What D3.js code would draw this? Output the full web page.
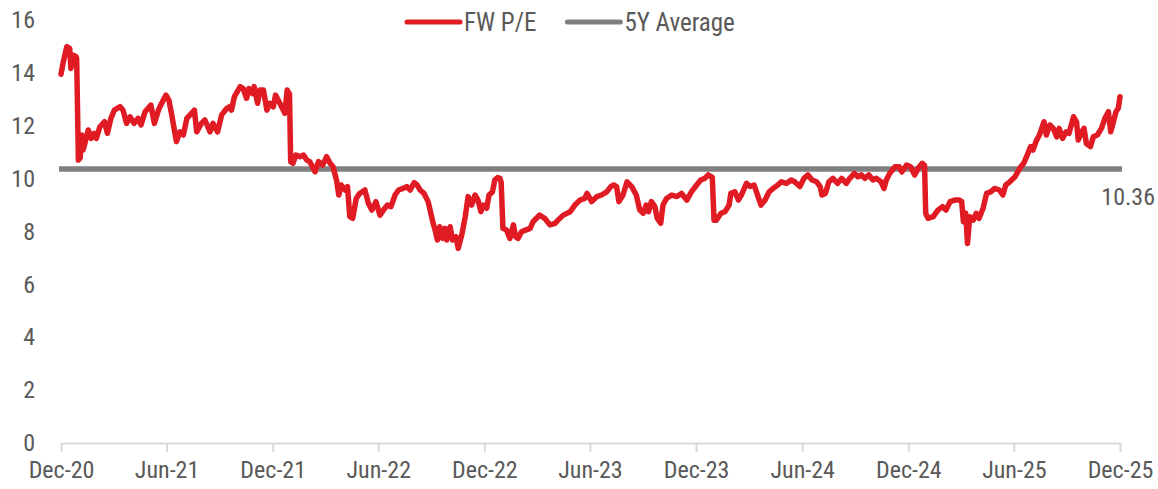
<!DOCTYPE html>
<html>
<head>
<meta charset="utf-8">
<script src="https://cdn.jsdelivr.net/npm/d3@7"></script>
<style>
  body { margin: 0; background: #fff; }
  svg text { font-family: "Liberation Sans Narrow", "Arial Narrow", "Roboto Condensed", "Liberation Sans", sans-serif; fill: #595959; }
</style>
</head>
<body>
<script>
// forward P/E (date, value)
var fwPE = [
  ["2020-12-01",13.95],["2020-12-05",14.42],["2020-12-11",14.99],["2020-12-16",14.93],["2020-12-18",14.17],
  ["2020-12-22",14.67],["2020-12-27",14.61],["2020-12-28",14.55],["2020-12-31",10.70],
  ["2021-01-03",10.78],["2021-01-06",11.65],["2021-01-08",11.08],["2021-01-12",11.40],["2021-01-17",11.84],
  ["2021-01-22",11.52],["2021-01-27",11.71],["2021-01-31",11.52],["2021-02-06",11.96],["2021-02-14",12.15],
  ["2021-02-19",11.71],["2021-02-25",12.28],["2021-03-03",12.59],["2021-03-13",12.72],["2021-03-18",12.59],
  ["2021-03-24",12.09],["2021-03-30",12.34],["2021-04-06",12.09],["2021-04-13",12.28],["2021-04-18",12.03],
  ["2021-04-25",12.53],["2021-05-05",12.78],["2021-05-11",12.09],["2021-05-18",12.59],["2021-05-22",12.78],
  ["2021-05-31",13.16],["2021-06-05",12.97],["2021-06-10",12.41],["2021-06-15",11.77],["2021-06-18",11.40],
  ["2021-06-24",11.77],["2021-06-30",11.65],["2021-07-06",12.28],["2021-07-14",12.47],["2021-07-19",12.59],
  ["2021-07-23",11.77],["2021-07-31",12.09],["2021-08-06",12.22],["2021-08-15",11.77],["2021-08-20",12.09],
  ["2021-08-28",11.77],["2021-09-04",12.41],["2021-09-13",12.66],["2021-09-18",12.72],["2021-09-21",12.59],
  ["2021-09-26",13.10],["2021-10-06",13.48],["2021-10-11",13.41],["2021-10-17",13.04],["2021-10-21",13.41],
  ["2021-10-27",13.22],["2021-10-30",13.48],["2021-11-05",12.85],["2021-11-09",13.35],["2021-11-15",13.35],
  ["2021-11-21",12.59],["2021-11-26",12.85],["2021-12-02",12.72],["2021-12-06",13.16],["2021-12-12",12.91],
  ["2021-12-19",12.60],["2021-12-22",12.47],["2021-12-26",13.35],["2021-12-30",13.20],
  ["2022-01-01",10.64],["2022-01-05",10.58],["2022-01-10",10.89],["2022-01-17",10.83],["2022-01-23",10.89],
  ["2022-01-29",10.70],["2022-02-03",10.64],["2022-02-12",10.26],["2022-02-18",10.64],["2022-02-25",10.51],
  ["2022-03-04",10.83],["2022-03-10",10.58],["2022-03-15",10.45],["2022-03-21",9.95],["2022-03-25",9.38],
  ["2022-03-29",9.76],["2022-04-05",9.57],["2022-04-09",9.70],["2022-04-13",8.56],["2022-04-18",8.50],
  ["2022-04-24",9.25],["2022-04-30",9.44],["2022-05-09",9.57],["2022-05-15",9.07],["2022-05-21",8.81],
  ["2022-05-28",9.13],["2022-06-04",8.62],["2022-06-10",8.81],["2022-06-17",9.00],["2022-06-23",8.94],
  ["2022-06-30",9.38],["2022-07-06",9.57],["2022-07-14",9.63],["2022-07-20",9.70],["2022-07-26",9.57],
  ["2022-08-02",9.85],["2022-08-07",9.76],["2022-08-12",9.57],["2022-08-19",9.44],["2022-08-26",9.13],
  ["2022-09-03",8.37],["2022-09-07",8.06],["2022-09-11",7.68],["2022-09-15",8.18],["2022-09-20",7.74],
  ["2022-09-24",8.12],["2022-09-27",7.68],["2022-10-03",8.18],["2022-10-07",7.68],["2022-10-13",7.80],
  ["2022-10-17",7.36],["2022-10-23",7.87],["2022-10-29",8.56],["2022-11-03",9.32],["2022-11-09",9.00],
  ["2022-11-15",9.38],["2022-11-20",9.19],["2022-11-25",8.75],["2022-11-29",9.00],["2022-12-05",8.88],
  ["2022-12-09",9.38],["2022-12-15",9.50],["2022-12-19",9.95],["2022-12-24",10.04],["2022-12-28",10.01],
  ["2022-12-30",9.85],
  ["2023-01-02",8.12],["2023-01-08",8.06],["2023-01-14",7.74],["2023-01-20",8.25],["2023-01-24",7.80],
  ["2023-01-28",7.74],["2023-02-03",7.99],["2023-02-11",8.06],["2023-02-18",8.12],["2023-02-23",8.37],
  ["2023-03-06",8.62],["2023-03-15",8.50],["2023-03-24",8.25],["2023-04-02",8.31],["2023-04-07",8.43],
  ["2023-04-16",8.62],["2023-04-28",8.75],["2023-05-06",9.00],["2023-05-15",9.19],["2023-05-23",9.25],
  ["2023-05-27",9.44],["2023-06-04",9.13],["2023-06-13",9.32],["2023-06-21",9.38],["2023-06-30",9.50],
  ["2023-07-07",9.70],["2023-07-12",9.76],["2023-07-17",9.70],["2023-07-21",9.13],["2023-07-28",9.38],
  ["2023-08-04",9.88],["2023-08-12",9.70],["2023-08-20",9.38],["2023-08-26",8.81],["2023-09-01",8.69],
  ["2023-09-06",9.00],["2023-09-10",8.75],["2023-09-15",9.13],["2023-09-21",8.94],["2023-09-25",8.50],
  ["2023-10-01",8.31],["2023-10-05",9.00],["2023-10-11",9.25],["2023-10-20",9.38],["2023-10-29",9.32],
  ["2023-11-06",9.44],["2023-11-15",9.19],["2023-11-23",9.50],["2023-12-02",9.76],["2023-12-09",9.95],
  ["2023-12-16",10.01],["2023-12-22",10.14],["2023-12-29",10.05],
  ["2024-01-01",8.43],["2024-01-05",8.43],["2024-01-13",8.69],["2024-01-20",8.75],["2024-01-27",9.00],
  ["2024-01-30",9.44],["2024-02-06",9.50],["2024-02-12",9.19],["2024-02-17",9.38],["2024-02-26",9.82],
  ["2024-03-03",9.70],["2024-03-10",9.76],["2024-03-16",9.38],["2024-03-22",9.00],["2024-03-29",9.19],
  ["2024-04-05",9.50],["2024-04-12",9.63],["2024-04-20",9.76],["2024-04-26",9.88],["2024-05-05",9.82],
  ["2024-05-13",9.95],["2024-05-19",9.88],["2024-05-28",9.70],["2024-06-04",10.01],["2024-06-11",10.14],
  ["2024-06-18",9.95],["2024-06-26",9.88],["2024-07-02",9.70],["2024-07-05",9.38],["2024-07-11",9.44],
  ["2024-07-17",9.88],["2024-07-24",10.01],["2024-08-01",9.82],["2024-08-08",10.01],["2024-08-16",9.82],
  ["2024-08-22",10.01],["2024-08-30",10.20],["2024-09-05",10.07],["2024-09-11",10.14],["2024-09-17",10.01],
  ["2024-09-24",10.14],["2024-10-01",9.95],["2024-10-07",10.01],["2024-10-15",9.88],["2024-10-20",9.63],
  ["2024-10-24",9.95],["2024-10-30",10.20],["2024-11-08",10.45],["2024-11-15",10.45],["2024-11-20",10.26],
  ["2024-11-28",10.51],["2024-12-05",10.45],["2024-12-12",10.14],["2024-12-18",10.39],["2024-12-25",10.58],
  ["2024-12-29",10.50],
  ["2024-12-31",8.69],["2025-01-04",8.50],["2025-01-13",8.56],["2025-01-21",8.81],["2025-01-29",8.94],
  ["2025-02-04",8.81],["2025-02-11",9.13],["2025-02-19",9.19],["2025-02-27",9.19],["2025-03-03",9.13],
  ["2025-03-06",8.37],["2025-03-10",8.69],["2025-03-13",7.55],["2025-03-17",8.56],["2025-03-23",8.43],
  ["2025-03-28",8.69],["2025-04-02",8.50],["2025-04-09",8.88],["2025-04-15",9.44],["2025-04-22",9.50],
  ["2025-04-29",9.63],["2025-05-07",9.57],["2025-05-13",9.38],["2025-05-18",9.76],["2025-05-25",9.88],
  ["2025-06-03",10.07],["2025-06-11",10.39],["2025-06-18",10.58],["2025-06-24",10.89],["2025-06-30",11.21],
  ["2025-07-04",11.08],["2025-07-09",11.40],["2025-07-15",11.65],["2025-07-19",11.90],["2025-07-23",12.15],
  ["2025-07-27",11.65],["2025-08-02",12.03],["2025-08-08",11.90],["2025-08-14",11.58],["2025-08-18",11.90],
  ["2025-08-24",11.52],["2025-08-30",11.77],["2025-09-04",11.71],["2025-09-08",12.03],["2025-09-12",12.34],
  ["2025-09-17",12.15],["2025-09-20",11.46],["2025-09-26",11.77],["2025-09-30",11.90],["2025-10-04",11.33],
  ["2025-10-11",11.21],["2025-10-16",11.58],["2025-10-23",11.65],["2025-10-30",11.90],["2025-11-05",12.28],
  ["2025-11-11",12.53],["2025-11-15",11.77],["2025-11-19",12.09],["2025-11-24",12.53],["2025-11-28",12.66],
  ["2025-12-01",13.10]
];

var avg5y = 10.36;
var yTicks = [0, 2, 4, 6, 8, 10, 12, 14, 16];
var xTicks = ["2020-12-01","2021-06-01","2021-12-01","2022-06-01","2022-12-01","2023-06-01",
              "2023-12-01","2024-06-01","2024-12-01","2025-06-01","2025-12-01"];
var legendItems = [
  {name: "FW P/E", color: "#e01b24"},
  {name: "5Y Average", color: "#808080"}
];

var width = 1158;
var height = 489;
var margin = {top: 20, right: 38, bottom: 46, left: 61};

var parseDate = d3.timeParse("%Y-%m-%d");

var data = fwPE.map(function(d) {
  return {date: parseDate(d[0]), value: d[1]};
});

var svg = d3.select("body")
  .append("svg")
  .attr("width", width)
  .attr("height", height);

var g = svg.append("g")
  .attr("transform", "translate(" + margin.left + "," + margin.top + ")");

var w = width - margin.left - margin.right;
var h = height - margin.top - margin.bottom;

var x = d3.scaleTime()
  .domain([parseDate(xTicks[0]), parseDate(xTicks[xTicks.length - 1])])
  .range([0, w]);

var y = d3.scaleLinear()
  .domain([0, 16])
  .range([h, 0]);

// x axis
var xAxis = g.append("g")
  .attr("transform", "translate(0," + h + ")")
  .call(d3.axisBottom(x)
    .tickValues(xTicks.map(parseDate))
    .tickFormat(d3.timeFormat("%b-%y"))
    .tickSize(9)
    .tickSizeOuter(0)
    .tickPadding(9));

xAxis.select(".domain").attr("stroke", "#d9d9d9").attr("stroke-width", 2);
xAxis.selectAll(".tick line").attr("stroke", "#d9d9d9").attr("stroke-width", 2);
xAxis.selectAll(".tick text")
  .style("font-size", "24px")
  .attr("fill", "#595959");

// y axis labels only
var yAxis = g.append("g")
  .call(d3.axisLeft(y).tickValues(yTicks).tickSize(0).tickPadding(26));
yAxis.select(".domain").remove();
yAxis.selectAll(".tick text")
  .style("font-size", "24px")
  .attr("fill", "#595959");

// 5y average
g.append("line")
  .attr("x1", x(parseDate(xTicks[0])) - 2)
  .attr("x2", x(parseDate(xTicks[xTicks.length - 1])) + 2)
  .attr("y1", y(avg5y))
  .attr("y2", y(avg5y))
  .attr("stroke", legendItems[1].color)
  .attr("stroke-width", 5.5);

g.append("text")
  .attr("x", w + 35)
  .attr("y", y(avg5y) + 36)
  .attr("text-anchor", "end")
  .style("font-size", "24px")
  .text(avg5y.toFixed(2));

// pe line
var line = d3.line()
  .x(function(d) { return x(d.date); })
  .y(function(d) { return y(d.value); });

g.append("path")
  .datum(data)
  .attr("fill", "none")
  .attr("stroke", legendItems[0].color)
  .attr("stroke-width", 5.5)
  .attr("stroke-linejoin", "round")
  .attr("stroke-linecap", "round")
  .attr("d", line);

// legend
var legend = svg.append("g")
  .attr("transform", "translate(405,22)");

var lx = 0;
legendItems.forEach(function(item) {
  legend.append("line")
    .attr("x1", lx + 2)
    .attr("x2", lx + 55)
    .attr("y1", 0)
    .attr("y2", 0)
    .attr("stroke", item.color)
    .attr("stroke-width", 5)
    .attr("stroke-linecap", "round");
  var t = legend.append("text")
    .attr("x", lx + 59)
    .attr("y", 9)
    .style("font-size", "25px")
    .text(item.name);
  lx += 59 + t.node().getComputedTextLength() + 29;
});
</script>
</body>
</html>
